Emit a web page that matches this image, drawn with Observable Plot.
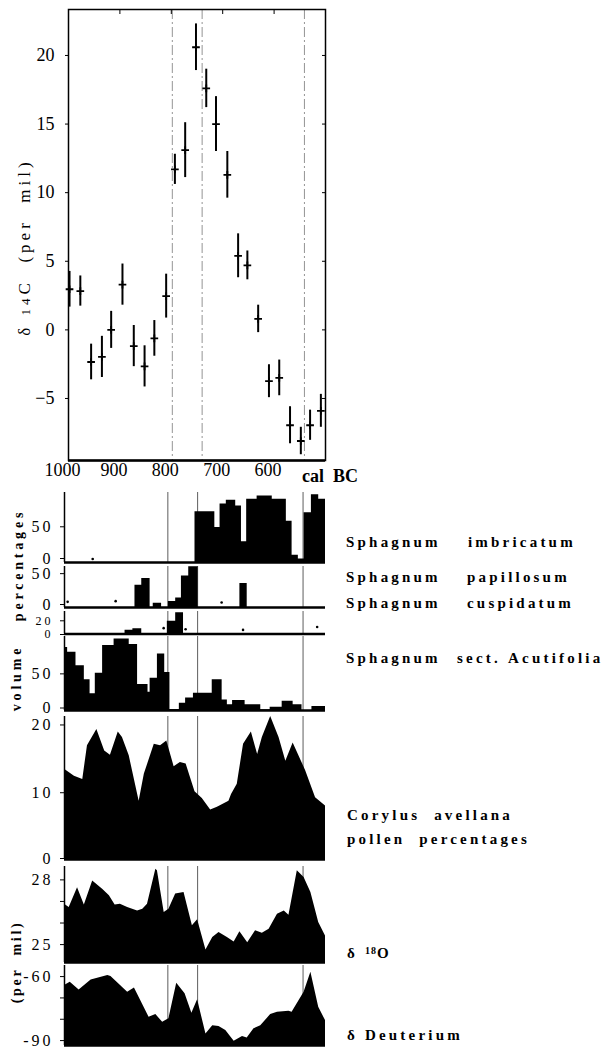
<!DOCTYPE html>
<html><head><meta charset="utf-8">
<script src="https://cdn.jsdelivr.net/npm/d3@7"></script>
<script src="https://cdn.jsdelivr.net/npm/@observablehq/plot@0.6"></script>
<style>
html,body{margin:0;padding:0;background:#fff;}
#wrap{position:relative;width:602px;height:1048px;overflow:hidden;font-family:"Liberation Serif",serif;color:#000;}
.lbl{position:absolute;white-space:pre;font-weight:bold;font-size:15px;letter-spacing:3.2px;line-height:1;}
.rot{position:absolute;white-space:pre;line-height:1;transform:translate(-50%,-50%) rotate(-90deg);}
</style></head><body><div id="wrap"></div>
<script>
// ---------- data ----------
const xTickYears = [1000, 900, 800, 700, 600];
const markerYearsTop = [798, 740, 541];
const markerYearsLower = [802, 745, 543];

// delta 14C (per mil) with error bars
const c14Year  = [998, 977, 956, 935, 917, 895, 873, 852, 833, 810, 793, 773, 752, 732, 713, 691, 670, 652, 631, 610, 590, 569, 548, 530, 509];
const c14Value = [2.96, 2.83, -2.34, -1.97, 0, 3.3, -1.18, -2.66, -0.62, 2.46, 11.7, 13.1, 20.6, 17.6, 15.0, 11.3, 5.4, 4.7, 0.8, -3.74, -3.5, -6.95, -8.1, -6.95, -5.9];
const c14Err   = [1.3, 1.1, 1.3, 1.5, 1.35, 1.5, 1.5, 1.5, 1.3, 1.6, 1.1, 2.0, 1.7, 1.4, 2.0, 1.7, 1.6, 1.05, 1.0, 1.2, 1.3, 1.35, 1.0, 1.1, 1.2];
const c14Ticks = [-5, 0, 5, 10, 15, 20];

// Sphagnum imbricatum (percentages, step starts)
const sphImbYear = [1000, 750, 712, 702, 690, 672, 661, 651, 631, 602, 575, 564, 552, 541, 527, 513, 500];
const sphImbPct  = [0, 71, 49, 82, 87, 79, 29, 88.5, 93, 88.5, 57.6, 10, 5, 69.5, 95, 88.5, 88.5];
const sphImbTraceYear = [946];
const sphImbTracePct  = [5];

// Sphagnum papillosum
const sphPapYear = [1000, 865, 852, 836, 830, 814, 801, 787, 776, 762, 744, 664, 650, 500];
const sphPapPct  = [0, 31.4, 41, 0, 6, 0, 8.6, 13.3, 44.7, 57.6, 0, 33.8, 0, 0];
const sphPapTraceYear = [994, 902, 699];
const sphPapTracePct  = [8, 9, 7];

// Sphagnum cuspidatum
const sphCusYear = [1000, 884, 869, 852, 803, 787, 772, 500];
const sphCusPct  = [0, 6.3, 9, 0, 21.7, 36.5, 0, 0];
const sphCusTraceYear = [810, 768, 658, 516];
const sphCusTracePct  = [10, 8, 7, 12];

// Sphagnum sect. Acutifolia (volume)
const sphAcuYear = [1000, 994, 978, 962, 951, 941, 927, 905, 876, 860, 840, 836, 822, 808, 798, 780, 768, 753, 717, 698, 688, 678, 654, 624, 606, 583, 562, 545, 526, 500];
const sphAcuVol  = [86, 79.5, 61, 42, 23, 51, 88.6, 97.7, 90, 35.5, 25, 44, 77, 52, 1.4, 10, 17, 23.6, 42, 14.5, 8, 13.6, 8, 1, 4.5, 12.7, 8, 0, 5.5, 5.5];

// Corylus avellana pollen percentages
const corylusYear = [1000, 981, 965, 956, 938, 923, 912, 897, 889, 876, 857, 847, 828, 816, 804, 790, 778, 767, 750, 736, 720, 707, 685, 680, 669, 657, 642, 630, 621, 605, 589, 576, 562, 538, 519, 500];
const corylusPct  = [13.3, 12.3, 11.8, 16.8, 19.2, 16.0, 15.4, 18.8, 18.0, 15.3, 8.6, 12.6, 17.0, 16.8, 17.5, 13.7, 14.3, 14.1, 10.0, 9.0, 7.3, 7.7, 8.6, 9.6, 11.1, 17.0, 18.8, 15.5, 18.0, 21.1, 18.0, 14.5, 17.2, 13.1, 9.1, 7.9];

// delta 18O (per mil, plotted magnitude)
const d18OYear  = [1000, 991, 975, 962, 946, 927, 914, 903, 893, 879, 860, 850, 841, 825, 822, 809, 800, 787, 771, 755, 745, 729, 716, 704, 688, 675, 664, 649, 634, 621, 608, 592, 579, 570, 554, 541, 528, 513, 500];
const d18OValue = [26.87, 26.72, 27.64, 26.83, 27.95, 27.57, 27.26, 26.83, 26.87, 26.72, 26.56, 26.64, 26.87, 28.49, 28.42, 26.49, 26.64, 27.34, 27.41, 25.87, 26.15, 24.75, 25.33, 25.56, 25.33, 25.12, 25.59, 25.09, 25.64, 25.53, 25.71, 26.41, 26.56, 26.36, 28.42, 28.11, 27.41, 26.02, 25.40];

// delta Deuterium (per mil)
const dDYear  = [1000, 989, 972, 949, 917, 911, 879, 866, 838, 825, 812, 800, 785, 769, 756, 745, 729, 716, 704, 691, 675, 659, 650, 637, 624, 605, 592, 570, 564, 541, 528, 513, 500];
const dDValue = [-64.2, -62.7, -66.25, -61.6, -59.5, -60, -67.3, -65.3, -79.1, -77.8, -81.4, -79.8, -63.1, -68.1, -77.2, -70.9, -86.9, -83, -83.4, -85.3, -90.3, -88.1, -88.75, -84.5, -83, -77.8, -76.7, -76.25, -76.7, -67.3, -58, -74.4, -80.6];

// ---------- helpers ----------
const zip = (xs, ys) => xs.map((x, i) => ({year: x, value: ys[i]}));
const wrap = document.getElementById("wrap");
function place(svg, top) {
  svg.style.position = "absolute";
  svg.style.left = "0px";
  svg.style.top = top + "px";
  wrap.appendChild(svg);
}

// ---------- top panel: delta 14C ----------
const c14 = c14Year.map((y, i) => ({year: y, value: c14Value[i], lo: c14Value[i] - c14Err[i], hi: c14Value[i] + c14Err[i]}));
const topPlot = Plot.plot({
  width: 602, height: 492,
  marginLeft: 68, marginRight: 277, marginTop: 9, marginBottom: 32,
  x: {domain: [1000, 500]},
  y: {domain: [-9.52, 23.35]},
  style: {background: "transparent", fontFamily: "Liberation Serif", fontSize: "18px", overflow: "visible", color: "black"},
  marks: [
    Plot.ruleX(markerYearsTop, {stroke: "#888", strokeWidth: 0.9, strokeDasharray: "10 3 2 3"}),
    Plot.frame({strokeWidth: 1.5}),
    Plot.ruleY([-9.52], {strokeWidth: 2.5}),
    Plot.axisY({ticks: c14Ticks, tickSize: 3, tickPadding: 11, label: null, fontSize: 18}),
    Plot.axisY({anchor: "right", ticks: c14Ticks, tickSize: -4, tickFormat: () => "", label: null}),
    Plot.axisX({anchor: "top", ticks: [900, 800, 700, 600], tickSize: -4, tickFormat: () => "", label: null}),
    Plot.axisX({ticks: xTickYears, tickSize: 0, tickPadding: 3, dx: -6, tickFormat: d => String(d), label: null, fontSize: 18}),
    Plot.ruleX(c14, {x: "year", y1: "lo", y2: "hi", strokeWidth: 2}),
    Plot.dot(c14, {x: "year", y: "value", symbol: "plus", r: 2.6, stroke: "black", strokeWidth: 1.8})
  ]
});
place(topPlot, 0);

// ---------- lower panels ----------
function lowerPanel(data, trace, o) {
  const mt = 4, mb = 4;
  const base = o.domain[0];
  const fmt = o.fmt || (d => String(d));
  const fs = o.fontSize || 16;
  const svg = Plot.plot({
    width: 602, height: o.bottom - o.top + mt + mb,
    marginLeft: 64, marginRight: 277, marginTop: mt, marginBottom: mb,
    x: {domain: [1000, 500], axis: null},
    y: {domain: o.domain},
    style: {background: "transparent", fontFamily: "Liberation Serif", fontSize: fs + "px", letterSpacing: "3px", overflow: "visible", color: "black"},
    marks: [
      Plot.ruleX(markerYearsLower, {stroke: "#333", strokeWidth: 0.8}),
      Plot.areaY(data, {x: "year", y1: base, y2: "value", curve: o.curve, fill: "black"}),
      trace ? Plot.dot(trace, {x: "year", y: "value", r: 1.3, fill: "black"}) : null,
      Plot.ruleY([base], {strokeWidth: 2.5}),
      Plot.ruleX([1000], {strokeWidth: 1.5}),
      Plot.axisY({ticks: o.ticks.filter(t => t !== o.ticks[0]), tickSize: 4, tickPadding: 7, tickFormat: fmt, label: null, fontSize: fs, dy: o.topDy || 0}),
      Plot.axisY({ticks: [o.ticks[0]], tickSize: 4, tickPadding: 7, tickFormat: fmt, label: null, fontSize: fs, dy: o.zeroDy || 0})
    ]
  });
  place(svg, o.top - mt);
}

lowerPanel(zip(sphImbYear, sphImbPct), zip(sphImbTraceYear, sphImbTracePct),
  {top: 492, bottom: 562, domain: [0, 98], ticks: [0, 50], curve: "step-after", zeroDy: -4});
lowerPanel(zip(sphPapYear, sphPapPct), zip(sphPapTraceYear, sphPapTracePct),
  {top: 566, bottom: 607, domain: [0, 58], ticks: [0, 50], curve: "step-after", zeroDy: -3, topDy: 1.5});
lowerPanel(zip(sphCusYear, sphCusPct), zip(sphCusTraceYear, sphCusTracePct),
  {top: 611, bottom: 633.5, domain: [0, 38.5], ticks: [0, 20], curve: "step-after", zeroDy: 0.5, topDy: -1.5, fontSize: 12});
lowerPanel(zip(sphAcuYear, sphAcuVol), null,
  {top: 636, bottom: 710, domain: [0, 101], ticks: [0, 50], curve: "step-after", zeroDy: -2.5});
lowerPanel(zip(corylusYear, corylusPct), null,
  {top: 716, bottom: 859, domain: [0, 21.1], ticks: [0, 10, 20], curve: "linear", zeroDy: -1, topDy: 1});
lowerPanel(zip(d18OYear, d18OValue), null,
  {top: 866, bottom: 962, domain: [24.17, 28.62], ticks: [25, 26, 27, 28], fmt: d => (d === 25 || d === 28) ? String(d) : "", curve: "linear"});
lowerPanel(zip(dDYear, dDValue), null,
  {top: 965, bottom: 1045, domain: [-92.3, -54.8], ticks: [-90, -80, -70, -60], fmt: d => (d === -90 || d === -60) ? String(d) : "", curve: "linear"});

// ---------- text labels ----------
function lbl(text, x, baseline, extra) {
  const d = document.createElement("div");
  d.className = "lbl";
  d.textContent = text;
  d.style.left = x + "px";
  d.style.top = (baseline - 12.5) + "px";
  if (extra) Object.assign(d.style, extra);
  wrap.appendChild(d);
  return d;
}
function rot(html, cx, cy, style) {
  const d = document.createElement("div");
  d.className = "rot";
  d.innerHTML = html;
  d.style.left = cx + "px";
  d.style.top = cy + "px";
  Object.assign(d.style, style);
  wrap.appendChild(d);
}

lbl("cal", 302, 479, {fontSize: "18px", letterSpacing: "0px"});
lbl("BC", 333, 479, {fontSize: "18px", letterSpacing: "0px"});

lbl("Sphagnum", 346, 547); lbl("imbricatum", 468, 547);
lbl("Sphagnum", 346, 582); lbl("papillosum", 467, 582);
lbl("Sphagnum", 346, 608); lbl("cuspidatum", 467, 608);
lbl("Sphagnum", 346, 663); lbl("sect.", 457, 663); lbl("Acutifolia", 508, 663);
lbl("Corylus  avellana", 347, 820);
lbl("pollen  percentages", 347, 844);
const o18 = lbl("", 347, 958);
o18.innerHTML = 'δ <span style="font-size:10px;vertical-align:4px;letter-spacing:1px">18</span>O';
lbl("δ Deuterium", 347, 1040);

rot('δ <span style="font-size:13px">14</span>C  (per  mil)', 24, 247, {fontSize: "17px", letterSpacing: "4px"});
rot('percentages', 19, 565, {fontSize: "14px", fontWeight: "bold", letterSpacing: "3.8px"});
rot('volume', 17, 678, {fontSize: "14px", fontWeight: "bold", letterSpacing: "3.8px"});
rot('(per  mil)', 17, 962, {fontSize: "14px", fontWeight: "bold", letterSpacing: "2.7px"});
</script></body></html>
